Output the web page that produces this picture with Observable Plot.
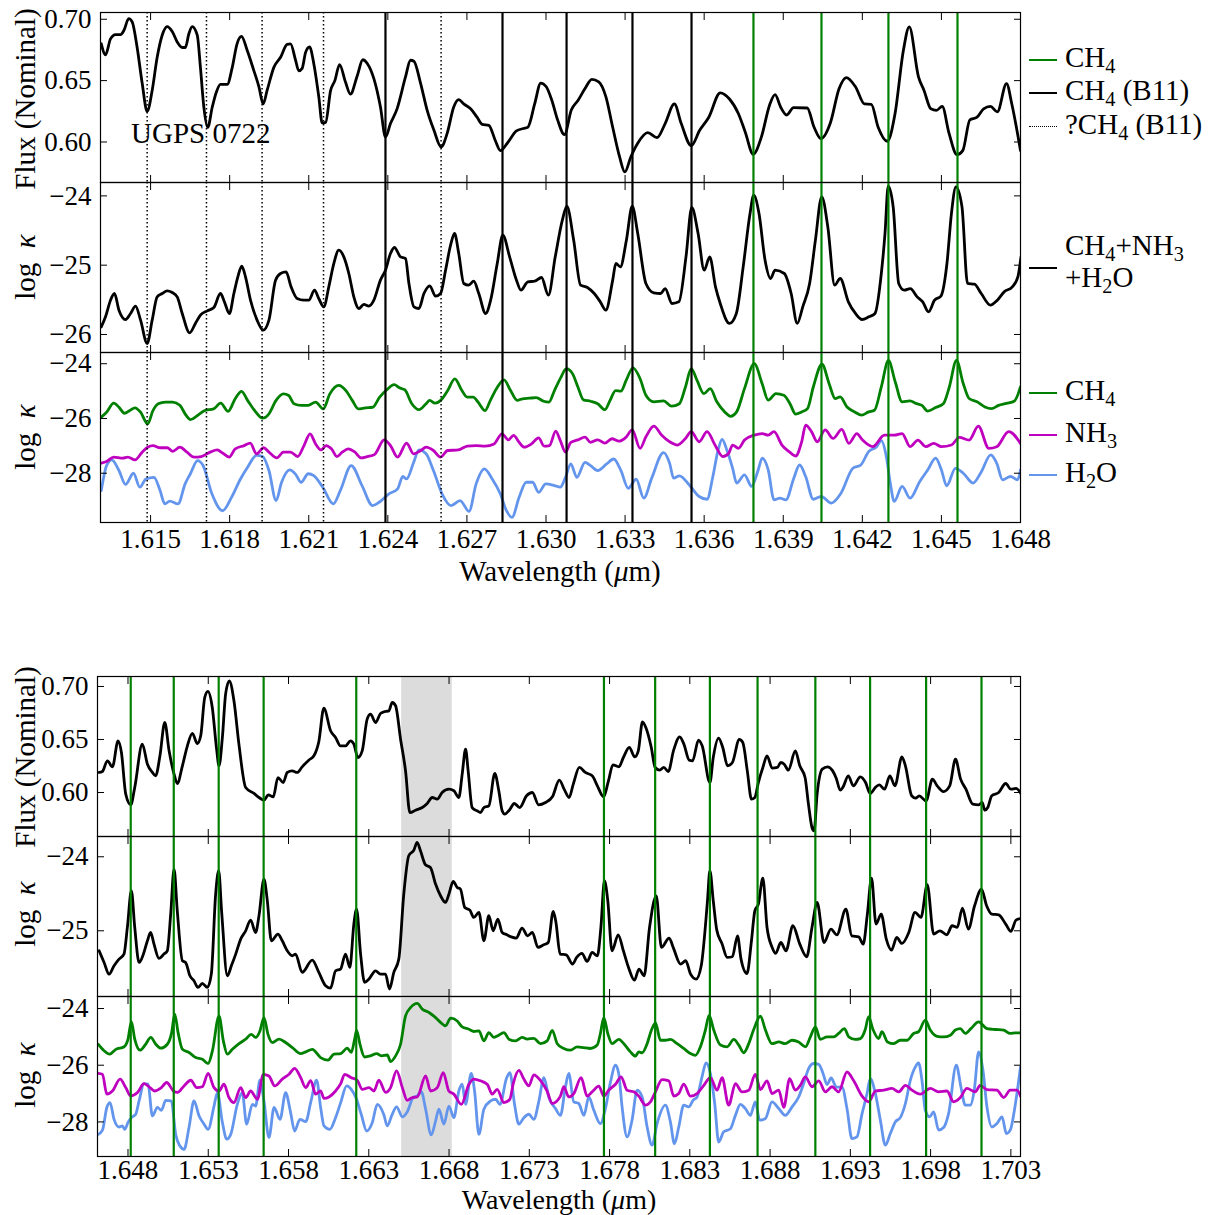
<!DOCTYPE html>
<html><head><meta charset="utf-8">
<script src="https://cdn.jsdelivr.net/npm/d3@7"></script>
<script src="https://cdn.jsdelivr.net/npm/@observablehq/plot@0.6"></script>
<style>
body{margin:0;background:#fff;}
#wrap{position:relative;width:1218px;height:1215px;font-family:"Liberation Serif","Times New Roman",serif;font-size:29px;color:#000;overflow:hidden;}
#wrap svg{position:absolute;left:0;}
.lab{position:absolute;white-space:nowrap;line-height:1;}
.rot{transform:translate(-50%,-50%) rotate(-90deg);}
.ctr{transform:translate(-50%,-50%);line-height:0.8;}
.sw{position:absolute;height:0;width:28px;}
sub{font-size:0.7em;vertical-align:-0.28em;line-height:0;}
</style></head><body><div id="wrap"></div>
<script>
// ---------- x domains and ticks ----------
const topDomain = [1.6131, 1.648];
const topTicks = [1.615,1.618,1.621,1.624,1.627,1.630,1.633,1.636,1.639,1.642,1.645,1.648];
const botDomain = [1.6461, 1.7036];
const botTicks = [1.648,1.653,1.658,1.663,1.668,1.673,1.678,1.683,1.688,1.693,1.698,1.703];

// ---------- marker lines ----------
const topDotted = [1.61487,1.61712,1.61923,1.62156,1.62602];      // ?CH4 (B11)
const topSolid = [1.62391,1.62835,1.63078,1.63328,1.63552];       // CH4 (B11)
const topGreen = [1.63787,1.64045,1.64299,1.64561];               // CH4
const botGreen = [1.64817,1.65085,1.65365,1.65645,1.66222,1.67765,1.68084,1.68425,1.68722,1.69082,1.69423,1.69772,1.70117];
const botBand = [1.66505, 1.66820];
const annotation = {label: "UGPS 0722", wavelength: 1.61426, flux: 0.607};

// ---------- top figure series ----------
const topFlux = [[1.61313,0.680],[1.61329,0.671],[1.61348,0.684],[1.61367,0.6875],[1.61386,0.6875],[1.61399,0.691],[1.61417,0.7005],[1.61430,0.698],[1.61449,0.677],[1.61468,0.648],[1.61487,0.625],[1.61506,0.642],[1.61525,0.669],[1.61544,0.687],[1.61563,0.694],[1.61582,0.690],[1.61601,0.6815],[1.61620,0.677],[1.61632,0.677],[1.61645,0.688],[1.61658,0.694],[1.61677,0.687],[1.61689,0.661],[1.61702,0.6285],[1.61717,0.612],[1.61734,0.6285],[1.61750,0.641],[1.61765,0.647],[1.61791,0.647],[1.61809,0.660],[1.61828,0.680],[1.61845,0.686],[1.61866,0.675],[1.61892,0.658],[1.61911,0.645],[1.61927,0.631],[1.61942,0.642],[1.61968,0.661],[1.61993,0.669],[1.62018,0.6796],[1.62031,0.680],[1.62050,0.6666],[1.62062,0.658],[1.62075,0.660],[1.62088,0.673],[1.62103,0.6775],[1.62119,0.664],[1.62138,0.637],[1.62151,0.6155],[1.62164,0.616],[1.62183,0.642],[1.62199,0.650],[1.62217,0.663],[1.62239,0.649],[1.62258,0.639],[1.62284,0.654],[1.62305,0.667],[1.62322,0.664],[1.62347,0.6516],[1.62372,0.6285],[1.62391,0.604],[1.62410,0.615],[1.62435,0.627],[1.62467,0.653],[1.62486,0.6666],[1.62499,0.6658],[1.62524,0.648],[1.62549,0.626],[1.62575,0.6095],[1.62602,0.596],[1.62625,0.607],[1.62650,0.6285],[1.62669,0.6345],[1.62688,0.631],[1.62714,0.627],[1.62739,0.620],[1.62758,0.6144],[1.62783,0.6136],[1.62808,0.601],
[1.62827,0.593],[1.62853,0.599],[1.62888,0.609],[1.62914,0.611],[1.62931,0.612],[1.62957,0.631],[1.62980,0.648],[1.63001,0.645],[1.63022,0.634],[1.63044,0.618],[1.63070,0.606],[1.63096,0.626],[1.63122,0.634],[1.63148,0.6435],[1.63174,0.651],[1.63200,0.649],[1.63227,0.637],[1.63253,0.612],[1.63279,0.588],[1.63299,0.5756],[1.63322,0.588],[1.63348,0.599],[1.63386,0.6076],[1.63421,0.6035],[1.63452,0.615],[1.63487,0.631],[1.63513,0.615],[1.63551,0.597],[1.63583,0.6095],[1.63617,0.620],[1.63661,0.640],[1.63696,0.635],[1.63730,0.623],[1.63756,0.608],[1.63786,0.590],[1.63817,0.604],[1.63848,0.630],[1.63869,0.6386],[1.63890,0.6285],[1.63913,0.622],[1.63939,0.628],[1.63991,0.6277],[1.64017,0.612],[1.64043,0.6027],[1.64078,0.615],[1.64112,0.6435],[1.64139,0.6525],[1.64174,0.645],[1.64208,0.631],[1.64234,0.6307],[1.64260,0.612],[1.64295,0.6006],[1.64324,0.623],[1.64356,0.675],[1.64378,0.6938],[1.64413,0.653],[1.64434,0.642],[1.64460,0.627],[1.64481,0.6258],[1.64503,0.629],[1.64529,0.607],[1.64559,0.5897],[1.64581,0.593],[1.64608,0.618],[1.64634,0.620],[1.64660,0.627],[1.64686,0.629],[1.64712,0.6245],[1.64747,0.6476],[1.64767,0.631],[1.64800,0.593]];

const topKappa = [[1.61313,-25.889],[1.61329,-25.745],[1.61348,-25.505],[1.61363,-25.409],[1.61380,-25.649],[1.61405,-25.784],[1.61424,-25.697],[1.61443,-25.591],[1.61462,-25.793],[1.61487,-26.130],[1.61506,-25.793],[1.61525,-25.457],[1.61544,-25.409],[1.61563,-25.370],[1.61582,-25.394],[1.61601,-25.457],[1.61620,-25.697],[1.61648,-25.976],[1.61670,-25.841],[1.61689,-25.721],[1.61715,-25.659],[1.61740,-25.611],[1.61765,-25.409],[1.61780,-25.529],[1.61799,-25.697],[1.61816,-25.409],[1.61831,-25.168],[1.61846,-25.014],[1.61860,-25.168],[1.61879,-25.505],[1.61904,-25.793],[1.61927,-25.938],[1.61949,-25.793],[1.61974,-25.216],[1.61993,-25.120],[1.62014,-25.096],[1.62033,-25.313],[1.62056,-25.481],[1.62081,-25.505],[1.62100,-25.505],[1.62122,-25.361],[1.62138,-25.481],[1.62157,-25.601],[1.62176,-25.313],[1.62195,-24.976],[1.62214,-24.784],[1.62233,-24.880],[1.62252,-25.120],[1.62271,-25.457],[1.62290,-25.625],[1.62309,-25.567],[1.62328,-25.591],[1.62347,-25.505],[1.62372,-25.216],[1.62391,-25.072],[1.62410,-24.832],[1.62425,-24.745],[1.62448,-24.880],[1.62467,-24.904],[1.62480,-25.264],[1.62499,-25.601],[1.62518,-25.625],[1.62537,-25.409],[1.62559,-25.298],[1.62581,-25.447],[1.62600,-25.409],[1.62619,-25.072],[1.62638,-24.712],[1.62653,-24.543],[1.62669,-24.832],[1.62688,-25.264],[1.62707,-25.288],[1.62726,-25.231],[1.62745,-25.409],[1.62771,-25.697],[1.62790,-25.505],[1.62815,-24.976],
[1.62836,-24.567],[1.62862,-24.880],[1.62888,-25.216],[1.62905,-25.361],[1.62931,-25.240],[1.62957,-25.231],[1.62983,-25.178],[1.63009,-25.433],[1.63035,-24.880],[1.63062,-24.351],[1.63079,-24.149],[1.63105,-24.639],[1.63131,-25.288],[1.63157,-25.322],[1.63183,-25.409],[1.63206,-25.529],[1.63227,-25.649],[1.63253,-25.216],[1.63265,-24.976],[1.63282,-25.024],[1.63305,-24.639],[1.63327,-24.149],[1.63348,-24.543],[1.63379,-25.264],[1.63409,-25.399],[1.63435,-25.409],[1.63452,-25.337],[1.63478,-25.553],[1.63504,-25.529],[1.63531,-24.880],[1.63553,-24.168],[1.63577,-24.543],[1.63600,-25.072],[1.63621,-24.880],[1.63643,-25.313],[1.63661,-25.553],[1.63696,-25.841],[1.63722,-25.697],[1.63748,-25.024],[1.63774,-24.255],[1.63788,-23.990],[1.63808,-24.255],[1.63831,-24.928],[1.63852,-25.192],[1.63869,-25.072],[1.63904,-25.120],[1.63930,-25.409],[1.63953,-25.841],[1.63974,-25.601],[1.64000,-25.264],[1.64022,-24.639],[1.64046,-24.014],[1.64069,-24.447],[1.64095,-25.288],[1.64116,-25.192],[1.64147,-25.529],[1.64174,-25.697],[1.64199,-25.784],[1.64225,-25.745],[1.64248,-25.697],[1.64272,-25.120],[1.64286,-24.543],[1.64298,-23.861],[1.64317,-24.159],[1.64338,-25.264],[1.64359,-25.361],[1.64382,-25.337],[1.64408,-25.457],[1.64429,-25.529],[1.64451,-25.673],[1.64474,-25.505],[1.64498,-25.447],[1.64521,-24.976],[1.64538,-24.255],[1.64555,-23.870],[1.64578,-24.159],[1.64599,-25.264],[1.64625,-25.274],[1.64651,-25.409],[1.64686,-25.577],[1.64712,-25.505],[1.64738,-25.385],[1.64769,-25.313],[1.64790,-25.168],[1.64802,-24.880]];

const topCH4 = [[1.61313,-25.95],[1.61333,-25.77],[1.61360,-25.44],[1.61380,-25.59],[1.61401,-25.81],[1.61421,-25.71],[1.61441,-25.61],[1.61462,-25.77],[1.61489,-26.20],[1.61509,-25.71],[1.61529,-25.46],[1.61556,-25.40],[1.61584,-25.40],[1.61611,-25.52],[1.61635,-25.89],[1.61651,-26.04],[1.61678,-25.89],[1.61706,-25.71],[1.61739,-25.65],[1.61766,-25.44],[1.61794,-25.74],[1.61821,-25.28],[1.61845,-25.01],[1.61868,-25.34],[1.61895,-25.71],[1.61925,-25.99],[1.61949,-25.83],[1.61976,-25.34],[1.62004,-25.10],[1.62024,-25.16],[1.62044,-25.46],[1.62071,-25.52],[1.62098,-25.52],[1.62126,-25.40],[1.62155,-25.65],[1.62180,-25.10],[1.62214,-24.79],[1.62241,-24.98],[1.62265,-25.34],[1.62288,-25.65],[1.62315,-25.61],[1.62342,-25.59],[1.62369,-25.22],[1.62396,-24.95],[1.62424,-24.76],[1.62444,-24.88],[1.62464,-24.95],[1.62491,-25.46],[1.62518,-25.68],[1.62545,-25.46],[1.62559,-25.34],[1.62579,-25.44],[1.62606,-25.28],[1.62627,-24.98],[1.62654,-24.55],[1.62681,-24.98],[1.62701,-25.22],[1.62724,-25.22],[1.62742,-25.40],[1.62769,-25.71],[1.62789,-25.34],[1.62816,-24.85],[1.62841,-24.59],[1.62864,-24.95],[1.62891,-25.34],[1.62911,-25.28],[1.62936,-25.26],[1.62963,-25.24],[1.62991,-25.37],[1.63011,-25.40],[1.63032,-24.98],[1.63057,-24.49],[1.63077,-24.18],[1.63101,-24.37],[1.63121,-24.85],[1.63142,-25.32],[1.63169,-25.37],[1.63196,-25.46],[1.63223,-25.68],[1.63243,-25.34],[1.63264,-24.98],[1.63284,-25.00],[1.63304,-24.61],
[1.63330,-24.15],[1.63357,-24.55],[1.63379,-25.15],[1.63409,-25.39],[1.63446,-25.36],[1.63476,-25.55],[1.63506,-25.46],[1.63529,-24.85],[1.63551,-24.18],[1.63573,-24.61],[1.63599,-25.09],[1.63623,-24.91],[1.63648,-25.39],[1.63678,-25.76],[1.63700,-25.92],[1.63723,-25.76],[1.63753,-24.91],[1.63790,-24.00],[1.63820,-24.73],[1.63843,-25.33],[1.63872,-25.09],[1.63902,-25.15],[1.63925,-25.45],[1.63947,-25.84],[1.63970,-25.76],[1.63992,-25.64],[1.64014,-24.85],[1.64047,-24.02],[1.64074,-24.73],[1.64097,-25.27],[1.64116,-25.21],[1.64142,-25.58],[1.64171,-25.76],[1.64197,-25.88],[1.64224,-25.76],[1.64246,-25.70],[1.64272,-24.85],[1.64299,-23.88],[1.64325,-24.67],[1.64351,-25.39],[1.64381,-25.36],[1.64403,-25.45],[1.64426,-25.52],[1.64448,-25.73],[1.64478,-25.60],[1.64508,-25.45],[1.64530,-24.85],[1.64557,-23.88],[1.64583,-24.73],[1.64605,-25.27],[1.64635,-25.39],[1.64665,-25.58],[1.64690,-25.64],[1.64717,-25.52],[1.64747,-25.45],[1.64777,-25.36],[1.64800,-24.85]];

const topNH3 = [[1.61313,-27.63],[1.61333,-27.57],[1.61360,-27.41],[1.61394,-27.45],[1.61414,-27.41],[1.61441,-27.51],[1.61468,-27.23],[1.61489,-27.05],[1.61509,-26.99],[1.61536,-27.07],[1.61563,-27.07],[1.61584,-27.20],[1.61611,-27.05],[1.61638,-27.23],[1.61665,-27.41],[1.61692,-27.39],[1.61726,-27.23],[1.61753,-27.15],[1.61773,-27.26],[1.61798,-27.41],[1.61821,-27.11],[1.61855,-26.99],[1.61878,-26.90],[1.61902,-27.29],[1.61929,-27.07],[1.61949,-27.23],[1.61979,-27.44],[1.62004,-27.23],[1.62031,-27.23],[1.62058,-27.39],[1.62082,-26.99],[1.62105,-26.56],[1.62126,-26.93],[1.62146,-27.15],[1.62166,-26.99],[1.62186,-27.11],[1.62207,-27.39],[1.62227,-27.23],[1.62250,-27.11],[1.62275,-27.23],[1.62299,-27.44],[1.62322,-27.39],[1.62349,-27.32],[1.62386,-26.78],[1.62410,-26.99],[1.62437,-27.41],[1.62471,-26.90],[1.62498,-27.29],[1.62525,-27.17],[1.62545,-27.05],[1.62573,-27.17],[1.62600,-27.41],[1.62627,-27.17],[1.62667,-27.15],[1.62701,-27.01],[1.62735,-26.99],[1.62769,-27.01],[1.62803,-26.93],[1.62833,-26.56],[1.62857,-26.78],[1.62877,-26.62],[1.62898,-26.87],[1.62918,-27.05],[1.62945,-26.93],[1.62972,-26.71],[1.62993,-27.01],[1.63013,-26.99],[1.63037,-26.46],[1.63054,-26.80],[1.63074,-27.23],[1.63094,-26.87],[1.63121,-26.78],[1.63148,-26.68],[1.63169,-26.87],[1.63196,-26.78],[1.63223,-26.90],[1.63250,-26.74],[1.63277,-26.83],[1.63304,-26.68],
[1.63327,-26.42],[1.63357,-27.09],[1.63379,-26.67],[1.63409,-26.28],[1.63439,-26.61],[1.63469,-26.85],[1.63499,-26.97],[1.63529,-26.73],[1.63551,-26.48],[1.63581,-26.85],[1.63611,-26.48],[1.63641,-26.97],[1.63671,-27.39],[1.63693,-27.27],[1.63708,-26.97],[1.63730,-27.09],[1.63753,-26.79],[1.63790,-26.61],[1.63820,-26.55],[1.63843,-26.61],[1.63865,-26.48],[1.63895,-26.97],[1.63922,-27.21],[1.63947,-27.37],[1.63970,-26.85],[1.63985,-26.24],[1.64007,-26.48],[1.64029,-26.85],[1.64059,-26.42],[1.64089,-26.73],[1.64122,-26.40],[1.64149,-26.91],[1.64179,-26.55],[1.64201,-26.79],[1.64239,-27.03],[1.64284,-26.61],[1.64321,-26.61],[1.64351,-26.55],[1.64381,-27.03],[1.64411,-26.79],[1.64441,-27.03],[1.64471,-26.91],[1.64500,-27.03],[1.64538,-26.97],[1.64568,-26.69],[1.64605,-26.79],[1.64640,-26.28],[1.64680,-27.09],[1.64710,-27.03],[1.64755,-26.48],[1.64800,-26.91]];

const topH2O = [[1.61313,-28.63],[1.61333,-27.72],[1.61353,-27.51],[1.61380,-27.90],[1.61405,-28.41],[1.61435,-28.00],[1.61459,-28.51],[1.61482,-28.21],[1.61513,-28.15],[1.61536,-28.63],[1.61554,-29.12],[1.61573,-29.02],[1.61604,-29.12],[1.61631,-28.39],[1.61651,-28.02],[1.61678,-27.54],[1.61699,-27.72],[1.61733,-28.76],[1.61773,-29.37],[1.61807,-28.88],[1.61841,-28.21],[1.61868,-27.78],[1.61902,-27.35],[1.61925,-27.39],[1.61949,-27.90],[1.61976,-29.00],[1.61997,-28.33],[1.62028,-27.88],[1.62051,-28.05],[1.62071,-28.33],[1.62098,-28.02],[1.62119,-28.09],[1.62153,-28.51],[1.62193,-29.12],[1.62220,-28.63],[1.62261,-27.72],[1.62302,-28.45],[1.62342,-29.18],[1.62367,-29.06],[1.62403,-28.76],[1.62437,-28.57],[1.62457,-28.12],[1.62471,-28.21],[1.62498,-27.60],[1.62518,-27.15],[1.62545,-27.29],[1.62573,-27.90],[1.62606,-28.76],[1.62640,-29.18],[1.62674,-29.00],[1.62708,-29.39],[1.62735,-28.39],[1.62766,-27.84],[1.62796,-28.21],[1.62827,-28.76],[1.62850,-29.37],[1.62871,-29.61],[1.62898,-28.88],[1.62925,-28.33],[1.62949,-28.33],[1.62972,-28.70],[1.62999,-28.39],[1.63032,-28.45],[1.63054,-28.51],[1.63074,-28.15],[1.63094,-27.66],[1.63117,-28.15],[1.63148,-27.60],[1.63169,-27.72],[1.63196,-27.90],[1.63230,-27.66],[1.63257,-27.48],[1.63284,-27.90],
[1.63312,-28.55],[1.63342,-28.22],[1.63371,-28.91],[1.63401,-28.18],[1.63446,-27.25],[1.63469,-27.64],[1.63484,-28.18],[1.63506,-28.10],[1.63543,-28.42],[1.63581,-28.85],[1.63611,-28.95],[1.63633,-28.12],[1.63653,-27.15],[1.63668,-26.76],[1.63686,-27.15],[1.63708,-27.82],[1.63723,-28.36],[1.63753,-28.06],[1.63780,-28.48],[1.63805,-27.88],[1.63820,-27.45],[1.63843,-27.88],[1.63865,-28.97],[1.63887,-28.91],[1.63910,-28.97],[1.63940,-28.18],[1.63962,-27.70],[1.63985,-28.12],[1.64014,-28.95],[1.64044,-28.85],[1.64082,-29.09],[1.64119,-28.73],[1.64164,-27.82],[1.64194,-27.70],[1.64224,-27.21],[1.64254,-27.03],[1.64272,-26.81],[1.64291,-27.39],[1.64306,-28.36],[1.64321,-29.03],[1.64351,-28.48],[1.64381,-28.91],[1.64418,-28.30],[1.64448,-27.88],[1.64478,-27.45],[1.64500,-27.88],[1.64520,-28.46],[1.64553,-27.82],[1.64583,-28.00],[1.64620,-28.36],[1.64650,-27.97],[1.64687,-27.33],[1.64710,-27.64],[1.64732,-28.24],[1.64762,-28.12],[1.64789,-28.24],[1.64800,-27.88]];

// ---------- bottom figure series ----------
const botFlux = [[1.64620,0.6189],[1.64640,0.6198],[1.64672,0.6299],[1.64703,0.6242],[1.64738,0.6487],[1.64759,0.6377],[1.64786,0.5984],[1.64817,0.5884],[1.64842,0.6047],[1.64889,0.6456],[1.64921,0.6267],[1.64952,0.6189],[1.64972,0.6157],[1.64999,0.6346],[1.65029,0.6660],[1.65056,0.6393],[1.65087,0.6173],[1.65107,0.6085],[1.65139,0.6252],[1.65170,0.6440],[1.65201,0.6557],[1.65232,0.6462],[1.65253,0.6535],[1.65278,0.6896],[1.65298,0.6953],[1.65325,0.6802],[1.65352,0.6409],[1.65367,0.6252],[1.65388,0.6519],[1.65408,0.6928],[1.65431,0.7053],[1.65460,0.6865],[1.65491,0.6456],[1.65533,0.6047],[1.65585,0.5991],[1.65616,0.5953],[1.65647,0.5928],[1.65674,0.5978],[1.65705,0.5959],[1.65734,0.6141],[1.65767,0.6094],[1.65792,0.6189],[1.65823,0.6204],[1.65854,0.6189],[1.65885,0.6242],[1.65926,0.6305],[1.65958,0.6346],[1.65989,0.6481],[1.66020,0.6796],[1.66062,0.6582],[1.66093,0.6519],[1.66124,0.6440],[1.66155,0.6440],[1.66186,0.6487],[1.66207,0.6456],[1.66232,0.6330],[1.66259,0.6393],[1.66290,0.6692],[1.66311,0.6739],[1.66342,0.6660],[1.66373,0.6745],[1.66404,0.6764],[1.66425,0.6770],[1.66446,0.6849],[1.66467,0.6818],[1.66498,0.6503],[1.66529,0.6204],[1.66556,0.5811],[1.66591,0.5833],[1.66633,0.5858],[1.66664,0.5896],[1.66695,0.5953],[1.66726,0.5937],[1.66757,0.6000],[1.66799,0.6031],[1.66830,0.6016],[1.66861,0.5953],[1.66882,0.6173],[1.66903,0.6409],[1.66919,0.6204],[1.66944,0.5858],[1.66975,0.5827],[1.66996,0.5811],[1.67017,0.5858],[1.67048,0.5874],[1.67085,0.6179],[1.67110,0.6016],[1.67131,0.5827],
[1.67147,0.5796],[1.67175,0.5833],[1.67207,0.5896],[1.67240,0.5858],[1.67283,0.5969],[1.67319,0.6000],[1.67358,0.5884],[1.67401,0.5906],[1.67444,0.5959],[1.67487,0.6116],[1.67520,0.6022],[1.67548,0.5953],[1.67574,0.6079],[1.67612,0.6236],[1.67649,0.6189],[1.67692,0.6157],[1.67724,0.6063],[1.67763,0.5959],[1.67793,0.6110],[1.67821,0.6261],[1.67858,0.6242],[1.67886,0.6330],[1.67923,0.6425],[1.67957,0.6336],[1.67979,0.6393],[1.68005,0.6667],[1.68026,0.6613],[1.68059,0.6431],[1.68084,0.6236],[1.68112,0.6211],[1.68138,0.6236],[1.68166,0.6198],[1.68198,0.6393],[1.68237,0.6525],[1.68263,0.6456],[1.68296,0.6305],[1.68317,0.6299],[1.68354,0.6494],[1.68377,0.6440],[1.68425,0.6094],[1.68446,0.6330],[1.68479,0.6513],[1.68505,0.6425],[1.68535,0.6252],[1.68565,0.6283],[1.68608,0.6500],[1.68630,0.6472],[1.68658,0.6204],[1.68684,0.5937],[1.68705,0.5953],[1.68727,0.6094],[1.68755,0.6236],[1.68781,0.6346],[1.68813,0.6230],[1.68845,0.6236],[1.68867,0.6283],[1.68888,0.6267],[1.68914,0.6211],[1.68957,0.6393],[1.68985,0.6252],[1.69018,0.6141],[1.69039,0.5890],[1.69061,0.5670],[1.69074,0.5638],[1.69093,0.5984],[1.69125,0.6220],[1.69158,0.6242],[1.69190,0.6204],[1.69212,0.6135],[1.69237,0.6022],[1.69255,0.6053],[1.69287,0.6157],[1.69319,0.6063],[1.69362,0.6148],[1.69395,0.6094],[1.69423,0.5991],[1.69459,0.6053],[1.69481,0.6072],[1.69513,0.6031],[1.69546,0.6157],[1.69578,0.6063],[1.69621,0.6336],[1.69643,0.6252],[1.69682,0.5969],[1.69707,0.5947],[1.69729,0.5969],[1.69772,0.5921],[1.69811,0.6126],[1.69841,0.6063],[1.69880,0.6009],[1.69919,0.6063],[1.69955,0.6314],[1.69987,0.6126],[1.70020,0.6031],[1.70063,0.5890],[1.70100,0.5884],[1.70121,0.5906],[1.70138,0.5833],[1.70156,0.5858],[1.70181,0.5969],[1.70224,0.6000],[1.70268,0.6085],[1.70300,0.6031],[1.70332,0.6038],[1.70371,0.5969]];

const botKappa = [[1.64620,-25.270],[1.64651,-25.428],[1.64682,-25.586],[1.64713,-25.473],[1.64744,-25.383],[1.64775,-25.315],[1.64796,-24.955],[1.64821,-24.459],[1.64842,-24.955],[1.64869,-25.428],[1.64896,-25.315],[1.64921,-25.135],[1.64941,-25.023],[1.64962,-25.180],[1.64993,-25.374],[1.65024,-25.315],[1.65045,-25.270],[1.65066,-24.775],[1.65087,-24.167],[1.65107,-24.730],[1.65139,-25.405],[1.65159,-25.428],[1.65186,-25.608],[1.65211,-25.676],[1.65236,-25.766],[1.65263,-25.712],[1.65294,-25.766],[1.65319,-25.586],[1.65346,-24.505],[1.65365,-24.189],[1.65383,-24.730],[1.65419,-25.608],[1.65444,-25.473],[1.65471,-25.315],[1.65502,-25.113],[1.65533,-25.000],[1.65564,-24.856],[1.65595,-25.023],[1.65616,-24.797],[1.65647,-24.302],[1.65668,-24.595],[1.65693,-25.135],[1.65734,-25.045],[1.65761,-25.135],[1.65792,-25.270],[1.65823,-25.338],[1.65844,-25.315],[1.65885,-25.563],[1.65948,-25.396],[1.65989,-25.563],[1.66031,-25.743],[1.66062,-25.775],[1.66093,-25.541],[1.66124,-25.518],[1.66155,-25.315],[1.66182,-25.495],[1.66207,-24.910],[1.66224,-24.707],[1.66249,-25.315],[1.66274,-25.698],[1.66301,-25.653],[1.66342,-25.541],[1.66373,-25.586],[1.66404,-25.586],[1.66429,-25.788],[1.66456,-25.563],[1.66487,-25.383],[1.66518,-24.505],[1.66549,-23.986],[1.66581,-23.910],[1.66601,-23.806],[1.66622,-23.919],[1.66653,-24.108],[1.66684,-24.144],[1.66716,-24.369],[1.66747,-24.527],[1.66778,-24.617],[1.66799,-24.505],[1.66826,-24.333],[1.66851,-24.414],[1.66871,-24.437],[1.66898,-24.685],[1.66930,-24.721],[1.66954,-24.820],[1.66986,-24.752],[1.67017,-25.135],[1.67048,-24.797],[1.67075,-25.000],[1.67104,-24.842],[1.67131,-25.023],
[1.67160,-25.054],[1.67186,-25.081],[1.67218,-25.099],[1.67255,-24.964],[1.67289,-25.068],[1.67319,-25.023],[1.67354,-25.225],[1.67390,-25.189],[1.67418,-25.158],[1.67449,-24.739],[1.67466,-24.887],[1.67492,-25.315],[1.67530,-25.324],[1.67569,-25.450],[1.67595,-25.360],[1.67628,-25.306],[1.67660,-25.414],[1.67692,-25.293],[1.67724,-25.338],[1.67746,-24.955],[1.67768,-24.324],[1.67789,-24.595],[1.67815,-25.270],[1.67854,-25.054],[1.67886,-25.270],[1.67918,-25.495],[1.67955,-25.667],[1.67983,-25.518],[1.68015,-25.608],[1.68049,-24.955],[1.68091,-24.527],[1.68123,-25.225],[1.68171,-25.099],[1.68198,-25.234],[1.68242,-25.450],[1.68274,-25.405],[1.68305,-25.586],[1.68339,-25.653],[1.68371,-25.473],[1.68410,-24.595],[1.68425,-24.189],[1.68446,-24.595],[1.68468,-24.991],[1.68500,-25.171],[1.68533,-25.360],[1.68565,-25.351],[1.68597,-25.068],[1.68619,-25.383],[1.68656,-25.577],[1.68684,-25.135],[1.68705,-24.730],[1.68727,-24.640],[1.68755,-24.288],[1.68781,-24.955],[1.68813,-25.225],[1.68835,-25.306],[1.68867,-25.158],[1.68899,-25.270],[1.68942,-24.932],[1.68985,-25.180],[1.69028,-25.351],[1.69061,-24.955],[1.69093,-24.617],[1.69136,-25.158],[1.69179,-24.977],[1.69216,-25.054],[1.69272,-24.707],[1.69309,-25.068],[1.69352,-25.081],[1.69380,-25.180],[1.69406,-24.775],[1.69432,-24.288],[1.69460,-24.910],[1.69492,-24.775],[1.69524,-25.113],[1.69556,-25.261],[1.69589,-25.090],[1.69621,-25.171],[1.69664,-25.023],[1.69703,-24.752],[1.69740,-24.820],[1.69779,-24.378],[1.69819,-25.045],[1.69858,-25.000],[1.69901,-25.054],[1.69934,-24.932],[1.69966,-24.955],[1.69998,-24.694],[1.70035,-24.977],[1.70074,-24.662],[1.70117,-24.437],[1.70149,-24.662],[1.70181,-24.775],[1.70224,-24.784],[1.70268,-24.910],[1.70300,-25.009],[1.70332,-24.856],[1.70371,-24.829]];

const botCH4 = [[1.64614,-25.26],[1.64651,-25.49],[1.64686,-25.61],[1.64724,-25.44],[1.64776,-25.35],[1.64800,-25.08],[1.64821,-24.46],[1.64842,-25.08],[1.64875,-25.47],[1.64910,-25.26],[1.64942,-25.02],[1.64973,-25.26],[1.65004,-25.40],[1.65045,-25.26],[1.65072,-24.85],[1.65091,-24.20],[1.65112,-24.85],[1.65139,-25.44],[1.65180,-25.55],[1.65222,-25.73],[1.65263,-25.79],[1.65299,-25.94],[1.65326,-25.49],[1.65367,-24.26],[1.65394,-25.14],[1.65419,-25.61],[1.65450,-25.44],[1.65492,-25.24],[1.65533,-25.08],[1.65568,-24.91],[1.65595,-25.02],[1.65622,-24.79],[1.65647,-24.32],[1.65672,-24.91],[1.65699,-25.20],[1.65741,-25.08],[1.65782,-25.20],[1.65824,-25.38],[1.65876,-25.59],[1.65907,-25.53],[1.65948,-25.44],[1.66000,-25.73],[1.66046,-25.82],[1.66083,-25.61],[1.66125,-25.59],[1.66166,-25.40],[1.66191,-25.55],[1.66212,-25.08],[1.66224,-24.77],[1.66245,-25.26],[1.66274,-25.71],[1.66311,-25.67],[1.66349,-25.59],[1.66378,-25.67],[1.66415,-25.64],[1.66436,-25.87],[1.66467,-25.67],[1.66498,-25.26],[1.66529,-24.26],[1.66560,-23.97],[1.66602,-23.82],[1.66633,-24.02],[1.66675,-24.14],[1.66716,-24.32],[1.66747,-24.49],[1.66778,-24.61],[1.66810,-24.34],[1.66851,-24.44],[1.66882,-24.65],[1.66924,-24.73],[1.66955,-24.81],[1.66986,-24.79],[1.67017,-25.14],[1.67048,-24.85],[1.67079,-25.02],[1.67100,-24.97],[1.67142,-24.85],[1.67173,-25.08],[1.67214,-25.14],[1.67256,-25.02],[1.67287,-25.08],[1.67328,-25.05],[1.67370,-25.24],[1.67411,-25.14],[1.67443,-24.77],
[1.67474,-25.24],[1.67515,-25.41],[1.67557,-25.47],[1.67598,-25.35],[1.67640,-25.38],[1.67681,-25.41],[1.67723,-25.29],[1.67743,-24.88],[1.67764,-24.32],[1.67789,-24.88],[1.67816,-25.24],[1.67857,-25.09],[1.67889,-25.24],[1.67930,-25.53],[1.67961,-25.68],[1.67982,-25.53],[1.68003,-25.56],[1.68034,-25.24],[1.68061,-24.76],[1.68086,-24.51],[1.68117,-25.12],[1.68148,-25.12],[1.68179,-25.09],[1.68221,-25.24],[1.68262,-25.41],[1.68304,-25.59],[1.68335,-25.65],[1.68366,-25.35],[1.68397,-24.76],[1.68420,-24.24],[1.68449,-24.76],[1.68491,-25.29],[1.68532,-25.35],[1.68574,-25.09],[1.68605,-25.29],[1.68636,-25.56],[1.68667,-25.24],[1.68698,-24.74],[1.68740,-24.27],[1.68771,-24.76],[1.68812,-25.24],[1.68854,-25.18],[1.68895,-25.24],[1.68937,-25.12],[1.68978,-25.18],[1.69020,-25.35],[1.69051,-25.00],[1.69082,-24.65],[1.69113,-25.09],[1.69155,-25.00],[1.69196,-25.00],[1.69227,-24.88],[1.69263,-24.71],[1.69290,-25.00],[1.69331,-25.09],[1.69362,-25.06],[1.69393,-24.74],[1.69414,-24.29],[1.69441,-24.74],[1.69476,-25.06],[1.69497,-24.82],[1.69532,-25.18],[1.69570,-25.24],[1.69611,-25.12],[1.69653,-25.12],[1.69694,-24.88],[1.69725,-24.82],[1.69767,-24.41],[1.69798,-24.76],[1.69840,-24.98],[1.69881,-25.00],[1.69923,-24.94],[1.69954,-24.76],[1.69985,-24.71],[1.70016,-24.88],[1.70051,-24.71],[1.70099,-24.47],[1.70151,-24.71],[1.70203,-24.74],[1.70255,-24.76],[1.70296,-24.88],[1.70327,-24.86],[1.70360,-24.86]];

const botNH3 = [[1.64614,-26.29],[1.64641,-26.32],[1.64668,-27.02],[1.64703,-26.91],[1.64751,-26.49],[1.64786,-26.79],[1.64817,-27.08],[1.64859,-26.96],[1.64900,-26.65],[1.64937,-26.79],[1.64966,-26.91],[1.65004,-26.81],[1.65041,-26.61],[1.65083,-26.91],[1.65108,-26.96],[1.65149,-26.73],[1.65191,-26.53],[1.65228,-26.79],[1.65263,-26.76],[1.65299,-26.29],[1.65336,-26.79],[1.65367,-26.91],[1.65398,-26.67],[1.65429,-27.14],[1.65460,-27.32],[1.65502,-26.79],[1.65533,-27.14],[1.65564,-26.91],[1.65606,-27.20],[1.65643,-26.32],[1.65678,-26.38],[1.65714,-26.73],[1.65761,-26.49],[1.65803,-26.32],[1.65838,-26.11],[1.65876,-26.44],[1.65907,-26.79],[1.65938,-26.54],[1.65969,-27.02],[1.66000,-26.91],[1.66021,-27.17],[1.66052,-27.12],[1.66093,-26.91],[1.66125,-26.65],[1.66150,-26.32],[1.66191,-26.44],[1.66228,-26.53],[1.66260,-26.85],[1.66301,-26.79],[1.66332,-26.91],[1.66363,-26.53],[1.66405,-26.96],[1.66436,-26.79],[1.66473,-26.20],[1.66509,-26.79],[1.66540,-27.24],[1.66571,-27.14],[1.66602,-27.12],[1.66654,-26.38],[1.66685,-26.91],[1.66727,-26.79],[1.66764,-26.26],[1.66799,-26.91],[1.66830,-27.02],[1.66876,-27.38],[1.66924,-26.67],[1.66955,-26.49],[1.66996,-26.55],[1.67038,-26.67],[1.67069,-27.02],[1.67100,-26.85],[1.67142,-27.32],[1.67179,-27.20],[1.67200,-26.65],[1.67235,-26.18],[1.67266,-26.49],[1.67297,-26.73],[1.67328,-26.34],[1.67370,-26.54],[1.67411,-26.91],[1.67443,-27.35],
[1.67494,-27.09],[1.67515,-26.76],[1.67546,-27.12],[1.67577,-27.00],[1.67623,-26.44],[1.67660,-27.09],[1.67691,-26.94],[1.67733,-26.74],[1.67764,-27.09],[1.67795,-26.88],[1.67837,-26.67],[1.67872,-26.41],[1.67909,-26.88],[1.67951,-26.94],[1.67982,-27.09],[1.68024,-27.41],[1.68055,-27.29],[1.68086,-26.94],[1.68127,-26.51],[1.68169,-26.55],[1.68200,-27.09],[1.68231,-27.00],[1.68262,-26.67],[1.68304,-27.09],[1.68345,-27.00],[1.68387,-26.71],[1.68428,-26.44],[1.68470,-26.88],[1.68501,-26.44],[1.68542,-27.41],[1.68584,-26.65],[1.68625,-26.94],[1.68667,-26.88],[1.68708,-26.32],[1.68740,-26.86],[1.68781,-26.55],[1.68812,-27.00],[1.68854,-26.88],[1.68885,-27.49],[1.68922,-26.47],[1.68957,-26.88],[1.68988,-26.71],[1.69020,-26.41],[1.69061,-26.76],[1.69103,-26.55],[1.69144,-26.94],[1.69186,-26.76],[1.69227,-26.94],[1.69279,-26.24],[1.69321,-26.55],[1.69373,-27.09],[1.69414,-27.29],[1.69456,-26.91],[1.69508,-26.88],[1.69559,-26.82],[1.69601,-26.94],[1.69643,-26.71],[1.69684,-26.88],[1.69736,-27.02],[1.69798,-26.82],[1.69850,-26.94],[1.69902,-26.91],[1.69943,-27.29],[1.69985,-27.14],[1.70026,-26.82],[1.70078,-26.94],[1.70109,-26.71],[1.70151,-26.86],[1.70213,-26.88],[1.70255,-27.14],[1.70296,-26.88],[1.70338,-26.88],[1.70360,-27.09]];

const botH2O = [[1.64614,-28.44],[1.64641,-28.29],[1.64668,-27.49],[1.64688,-27.32],[1.64713,-27.91],[1.64744,-28.18],[1.64765,-28.14],[1.64780,-28.26],[1.64800,-28.02],[1.64821,-27.85],[1.64848,-27.73],[1.64869,-27.26],[1.64900,-26.65],[1.64925,-26.67],[1.64952,-27.79],[1.64983,-27.49],[1.65008,-27.59],[1.65035,-27.24],[1.65070,-27.26],[1.65097,-28.44],[1.65124,-28.85],[1.65149,-28.97],[1.65180,-28.20],[1.65211,-27.26],[1.65243,-27.79],[1.65274,-28.08],[1.65299,-28.26],[1.65336,-27.44],[1.65357,-26.97],[1.65388,-28.02],[1.65415,-28.61],[1.65440,-28.44],[1.65481,-27.38],[1.65512,-26.97],[1.65539,-28.08],[1.65575,-27.38],[1.65595,-27.44],[1.65622,-26.53],[1.65647,-27.26],[1.65678,-28.55],[1.65710,-27.49],[1.65747,-27.91],[1.65782,-26.97],[1.65813,-27.67],[1.65838,-28.32],[1.65871,-27.91],[1.65907,-27.99],[1.65938,-27.32],[1.65975,-26.53],[1.66000,-27.49],[1.66021,-28.14],[1.66058,-28.26],[1.66093,-27.85],[1.66125,-27.32],[1.66162,-26.73],[1.66191,-26.85],[1.66224,-27.20],[1.66253,-27.73],[1.66287,-28.32],[1.66322,-28.02],[1.66353,-27.38],[1.66394,-27.75],[1.66415,-28.14],[1.66446,-27.73],[1.66473,-27.47],[1.66509,-27.82],[1.66540,-27.64],[1.66577,-27.14],[1.66602,-27.08],[1.66627,-26.93],[1.66654,-27.55],[1.66689,-28.46],[1.66716,-27.97],[1.66737,-27.55],[1.66768,-28.08],[1.66799,-27.44],[1.66830,-27.85],[1.66861,-26.91],[1.66882,-26.67],[1.66903,-27.38],[1.66938,-26.29],[1.66959,-26.91],[1.66986,-28.44],[1.67017,-27.55],[1.67059,-27.26],[1.67090,-27.20],[1.67117,-27.38],[1.67158,-26.46],[1.67179,-26.26],[1.67208,-27.38],[1.67235,-28.08],[1.67266,-27.85],[1.67297,-27.73],[1.67328,-27.91],[1.67360,-27.26],[1.67391,-26.44],[1.67422,-27.14],
[1.67463,-27.53],[1.67494,-27.77],[1.67525,-26.77],[1.67546,-26.29],[1.67577,-27.29],[1.67608,-27.35],[1.67640,-27.77],[1.67671,-27.12],[1.67702,-27.59],[1.67743,-28.06],[1.67774,-27.53],[1.67806,-26.59],[1.67837,-26.00],[1.67857,-26.29],[1.67878,-27.47],[1.67909,-28.53],[1.67940,-27.94],[1.67972,-26.88],[1.68003,-27.12],[1.68034,-28.18],[1.68065,-28.82],[1.68096,-28.06],[1.68148,-27.41],[1.68179,-28.00],[1.68204,-28.77],[1.68231,-28.18],[1.68262,-27.41],[1.68293,-27.47],[1.68320,-27.24],[1.68345,-27.12],[1.68376,-26.41],[1.68401,-25.92],[1.68428,-26.29],[1.68455,-27.35],[1.68480,-28.71],[1.68511,-28.35],[1.68553,-28.24],[1.68584,-27.77],[1.68615,-27.38],[1.68646,-27.53],[1.68677,-27.77],[1.68708,-27.29],[1.68735,-27.94],[1.68771,-27.88],[1.68812,-27.29],[1.68854,-27.53],[1.68895,-27.77],[1.68937,-27.47],[1.68978,-27.12],[1.69009,-26.65],[1.69040,-26.12],[1.69072,-25.94],[1.69103,-25.97],[1.69130,-26.29],[1.69155,-26.68],[1.69180,-26.45],[1.69213,-26.77],[1.69248,-26.77],[1.69279,-27.53],[1.69310,-28.59],[1.69341,-28.53],[1.69373,-27.71],[1.69404,-27.00],[1.69424,-26.47],[1.69456,-27.00],[1.69487,-27.94],[1.69518,-28.82],[1.69549,-28.41],[1.69580,-28.00],[1.69611,-27.85],[1.69643,-27.35],[1.69674,-26.53],[1.69705,-26.06],[1.69725,-25.92],[1.69746,-26.53],[1.69767,-27.59],[1.69794,-27.82],[1.69819,-27.65],[1.69850,-28.29],[1.69881,-28.20],[1.69912,-27.71],[1.69960,-26.00],[1.69989,-26.77],[1.70016,-27.41],[1.70047,-27.41],[1.70072,-26.88],[1.70099,-25.53],[1.70126,-26.18],[1.70151,-27.47],[1.70182,-28.18],[1.70213,-28.06],[1.70245,-27.82],[1.70272,-28.41],[1.70296,-28.29],[1.70327,-27.41],[1.70360,-26.06]];

// ---------- colours ----------
const GREEN = "#008000", MAGENTA = "#bf00bf", BLUE = "#6495ed", BLACK = "#000000";

const wrap = document.getElementById("wrap");

function panel({top, height, xDomain, xTicks, yDomain, yTicks, yFormat, marginLeft, series, rules, band, xLabels, tickPad = 13, extra = []}) {
  const marks = [];
  if (band) marks.push(Plot.rect([band], {x1: d => d[0], x2: d => d[1], fill: "#dcdcdc"}));
  for (const s of series) marks.push(Plot.line(s.data, {x: d => d[0], y: d => d[1], stroke: s.color, strokeWidth: 2.8, curve: "monotone-x", clip: true}));
  for (const r of rules) marks.push(Plot.ruleX(r.data, {stroke: r.color, strokeWidth: r.width, strokeDasharray: r.dash}));
  marks.push(...extra);
  marks.push(Plot.frame({stroke: "black", strokeWidth: 1.2}));
  marks.push(Plot.axisY(yTicks, {anchor: "left", tickSize: -7, tickPadding: 16, tickFormat: yFormat, label: null, stroke: "black", fill: "black"}));
  marks.push(Plot.axisY(yTicks, {anchor: "right", tickSize: -7, fill: "none", stroke: "black"}));
  marks.push(Plot.axisX(xTicks, {anchor: "top", tickSize: -7, fill: "none", stroke: "black"}));
  marks.push(Plot.axisX(xTicks, {anchor: "bottom", tickSize: -7, tickPadding: tickPad, tickFormat: d3.format(".3f"), label: null, stroke: "black", fill: xLabels ? "black" : "none"}));
  const svg = Plot.plot({
    width: 1218, height,
    marginTop: 0, marginBottom: 0, marginLeft, marginRight: 198,
    x: {domain: xDomain}, y: {domain: yDomain},
    style: {fontFamily: "'Liberation Serif','Times New Roman',serif", fontSize: "27px", background: "transparent", overflow: "visible", color: "black"},
    marks
  });
  svg.style.position = "absolute";
  svg.style.left = "0px";
  svg.style.top = top + "px";
  wrap.append(svg);
}

const fmt2 = d3.format(".2f"), fmtInt = d3.format("d");
const topRules = [
  {data: topDotted, color: BLACK, width: 1.5, dash: "1.5,2.5"},
  {data: topSolid, color: BLACK, width: 2.2},
  {data: topGreen, color: GREEN, width: 2.2}
];
const botRules = [{data: botGreen, color: GREEN, width: 2.2}];

// top figure
panel({top: 12, height: 170, xDomain: topDomain, xTicks: topTicks, yDomain: [0.567, 0.7055], yTicks: [0.60, 0.65, 0.70], yFormat: fmt2, marginLeft: 100,
  series: [{data: topFlux, color: BLACK}], rules: topRules,
  extra: [Plot.text([annotation], {x: "wavelength", y: "flux", text: "label", textAnchor: "start", fill: "black", fontSize: 29})]});
panel({top: 182, height: 170, xDomain: topDomain, xTicks: topTicks, yDomain: [-26.26, -23.807], yTicks: [-24, -25, -26], yFormat: fmtInt, marginLeft: 100,
  series: [{data: topKappa, color: BLACK}], rules: topRules});
panel({top: 352, height: 170, xDomain: topDomain, xTicks: topTicks, yDomain: [-29.80, -23.59], yTicks: [-24, -26, -28], yFormat: fmtInt, marginLeft: 100,
  series: [{data: topH2O, color: BLUE}, {data: topNH3, color: MAGENTA}, {data: topCH4, color: GREEN}], rules: topRules, xLabels: true});

// bottom figure
panel({top: 676, height: 160, xDomain: botDomain, xTicks: botTicks, yDomain: [0.5585, 0.7094], yTicks: [0.60, 0.65, 0.70], yFormat: fmt2, marginLeft: 97,
  series: [{data: botFlux, color: BLACK}], rules: botRules, band: botBand});
panel({top: 836, height: 160, xDomain: botDomain, xTicks: botTicks, yDomain: [-25.888, -23.726], yTicks: [-24, -25], yFormat: fmtInt, marginLeft: 97,
  series: [{data: botKappa, color: BLACK}], rules: botRules, band: botBand});
panel({top: 996, height: 160, xDomain: botDomain, xTicks: botTicks, yDomain: [-29.22, -23.576], yTicks: [-24, -26, -28], yFormat: fmtInt, marginLeft: 97,
  series: [{data: botH2O, color: BLUE}, {data: botNH3, color: MAGENTA}, {data: botCH4, color: GREEN}], rules: botRules, band: botBand, xLabels: true, tickPad: 10});

// ---------- HTML text: axis titles and legends ----------
function label(html, x, y, cls, size) {
  const d = document.createElement("div");
  d.className = "lab " + cls;
  d.style.left = x + "px"; d.style.top = y + "px";
  if (size) d.style.fontSize = size + "px";
  d.innerHTML = html;
  wrap.append(d);
}
function swatch(x, y, color, style, w) {
  const d = document.createElement("div");
  d.className = "sw";
  d.style.left = x + "px"; d.style.top = (y - 1) + "px";
  d.style.borderTop = `${w}px ${style} ${color}`;
  wrap.append(d);
}
label("Flux (Nominal)", 25, 99, "rot");
label("log&nbsp; <i>κ</i>", 25, 267, "rot");
label("log&nbsp; <i>κ</i>", 25, 437, "rot");
label("Wavelength (<i>μ</i>m)", 560, 572, "ctr");
label("Flux (Nominal)", 25, 757, "rot");
label("log&nbsp; <i>κ</i>", 25, 914, "rot");
label("log&nbsp; <i>κ</i>", 25, 1075, "rot");
label("Wavelength (<i>μ</i>m)", 559, 1200, "ctr", 28);

const legendTop = [
  {y: 60, color: GREEN, style: "solid", w: 2.5, html: "CH<sub>4</sub>"},
  {y: 93, color: BLACK, style: "solid", w: 2.5, html: "CH<sub>4</sub> (B11)"},
  {y: 127, color: BLACK, style: "dotted", w: 1.5, html: "?CH<sub>4</sub> (B11)"}
];
const legendBottom = [
  {y: 393, color: GREEN, html: "CH<sub>4</sub>"},
  {y: 435, color: MAGENTA, html: "NH<sub>3</sub>"},
  {y: 475, color: BLUE, html: "H<sub>2</sub>O"}
];
for (const l of legendTop) { swatch(1029, l.y, l.color, l.style, l.w); label(l.html, 1065, l.y - 17, ""); }
swatch(1029, 268, BLACK, "solid", 2.5);
label("CH<sub>4</sub>+NH<sub>3</sub>", 1065, 231, "");
label("+H<sub>2</sub>O", 1065, 263, "");
for (const l of legendBottom) { swatch(1029, l.y, l.color, "solid", 2.5); label(l.html, 1065, l.y - 17, ""); }
</script></body></html>
